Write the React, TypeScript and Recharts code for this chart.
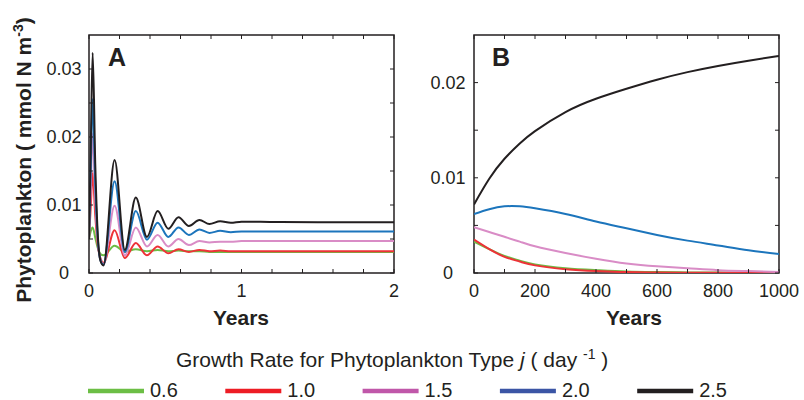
import { LineChart, Line, XAxis, YAxis, ReferenceArea } from "recharts";

// Panel A: first two years (time in years)
const yearsA = [
  0, 0.012, 0.024, 0.041, 0.056, 0.075, 0.095, 0.168, 0.235, 0.307, 0.38,
  0.45, 0.52, 0.587, 0.655, 0.724, 0.79, 0.86, 0.93, 1.0, 1.2, 1.5, 2.0,
];
const greenA = [
  0.005, 0.0062, 0.0067, 0.0052, 0.0038, 0.0028, 0.0026, 0.004, 0.0031,
  0.0035, 0.0032, 0.0034, 0.0032, 0.0033, 0.0032, 0.0032, 0.0031, 0.0031,
  0.0031, 0.0031, 0.0031, 0.0031, 0.0031,
];
const redA = [
  0.005, 0.01, 0.0147, 0.0085, 0.0043, 0.0022, 0.0015, 0.0063, 0.0022,
  0.0044, 0.0026, 0.0039, 0.0029, 0.0035, 0.0031, 0.0034, 0.0032, 0.0033,
  0.0032, 0.0032, 0.0032, 0.0032, 0.0032,
];
const pinkA = [
  0.005, 0.013, 0.0205, 0.0108, 0.0049, 0.002, 0.0013, 0.0099, 0.0026,
  0.0067, 0.0039, 0.0056, 0.0039, 0.005, 0.0041, 0.0047, 0.0045, 0.0046,
  0.0046, 0.0047, 0.0047, 0.0047, 0.0047,
];
const blueA = [
  0.005, 0.016, 0.0256, 0.013, 0.0056, 0.0019, 0.0012, 0.0135, 0.0031,
  0.0091, 0.0049, 0.0074, 0.0053, 0.0067, 0.0056, 0.0064, 0.0059, 0.0062,
  0.006, 0.0061, 0.0061, 0.0061, 0.0061,
];
const blackA = [
  0.005, 0.019, 0.0324, 0.016, 0.0063, 0.0018, 0.0011, 0.0166, 0.0034,
  0.0111, 0.0053, 0.0091, 0.0065, 0.0082, 0.0069, 0.0078, 0.0072, 0.0076,
  0.0074, 0.00755, 0.0075, 0.00745, 0.00745,
];

// Panel B: long run (time in years)
const yearsB = [0, 50, 100, 150, 200, 300, 400, 500, 600, 700, 800, 900, 1000];
const greenB = [
  0.0033, 0.0025, 0.0018, 0.0013, 0.0009, 0.0005, 0.0003, 0.00016, 0.0001,
  0.00006, 0.00004, 0.00002, 0.00001,
];
const redB = [
  0.0035, 0.0025, 0.0017, 0.0012, 0.0008, 0.0004, 0.0002, 0.0001, 0.00005,
  0.00003, 0.00002, 0.00001, 0,
];
const pinkB = [
  0.0048, 0.0043, 0.0038, 0.0033, 0.0028, 0.0021, 0.0015, 0.001, 0.0007,
  0.0005, 0.0003, 0.0002, 0.0001,
];
const blueB = [
  0.0062, 0.0067, 0.0070, 0.0070, 0.0068, 0.0062, 0.0054, 0.0047, 0.004,
  0.0034, 0.0029, 0.0024, 0.002,
];
const blackB = [
  0.0072, 0.0099, 0.012, 0.0136, 0.0149, 0.0169, 0.0183, 0.01935, 0.0203,
  0.0211, 0.02175, 0.0223, 0.0228,
];

const xTicksA = [0, 0.2, 0.4, 0.6, 0.8, 1, 1.2, 1.4, 1.6, 1.8, 2];
const xLabelsA = [0, 1, 2];
const yTicksA = [0, 0.005, 0.01, 0.015, 0.02, 0.025, 0.03];
const yLabelsA = [0, 0.01, 0.02, 0.03];

const xTicksB = [0, 100, 200, 300, 400, 500, 600, 700, 800, 900, 1000];
const xLabelsB = [0, 200, 400, 600, 800, 1000];
const yTicksB = [0, 0.005, 0.01, 0.015, 0.02];
const yLabelsB = [0, 0.01, 0.02];

const rates = ["0.6", "1.0", "1.5", "2.0", "2.5"];
const lineColors = ["#6cbe45", "#ed3237", "#d98cc6", "#1c75bc", "#231f20"];
const legendColors = ["#6cbe45", "#ed1c24", "#c057a9", "#3b55a5", "#231f20"];

const INK = "#231f20";
const FONT = "'Liberation Sans', Arial, Helvetica, sans-serif";
const PLOT_W = 305;
const PLOT_H = 238;

const dataA = yearsA.map((t, i) => ({
  t,
  g: greenA[i],
  r: redA[i],
  p: pinkA[i],
  b: blueA[i],
  k: blackA[i],
}));
const dataB = yearsB.map((t, i) => ({
  t,
  g: greenB[i],
  r: redB[i],
  p: pinkB[i],
  b: blueB[i],
  k: blackB[i],
}));

const fmtY = (v: number) => (v === 0 ? "0" : v.toFixed(2));

function makeXTick(labels: number[]) {
  return (props: any) => {
    const { x, y, payload } = props;
    const v = payload.value;
    return (
      <g>
        <line x1={x} x2={x} y1={y} y2={y - 4} stroke={INK} strokeWidth={1} />
        <line x1={x} x2={x} y1={y - PLOT_H} y2={y - PLOT_H + 4} stroke={INK} strokeWidth={1} />
        {labels.includes(v) && (
          <text x={x} y={y + 24} textAnchor="middle" fontSize={18} fill={INK} fontFamily={FONT}>
            {String(v)}
          </text>
        )}
      </g>
    );
  };
}

function makeYTick(labels: number[], offset: number) {
  return (props: any) => {
    const { x, y, payload } = props;
    const v = payload.value;
    return (
      <g>
        <line x1={x} x2={x + 4} y1={y} y2={y} stroke={INK} strokeWidth={1} />
        <line x1={x + PLOT_W} x2={x + PLOT_W - 4} y1={y} y2={y} stroke={INK} strokeWidth={1} />
        {labels.includes(v) && (
          <text x={x - offset} y={y + 6} textAnchor="middle" fontSize={18} fill={INK} fontFamily={FONT}>
            {fmtY(v)}
          </text>
        )}
      </g>
    );
  };
}

const keys = ["g", "r", "p", "b", "k"];

function Series(curve: "monotone" | "natural") {
  return keys.map((k, i) => (
    <Line
      key={k}
      type={curve}
      dataKey={k}
      stroke={lineColors[i]}
      strokeWidth={2}
      dot={false}
      isAnimationActive={false}
    />
  ));
}

export default function App() {
  return (
    <div
      style={{
        position: "absolute",
        left: 0,
        top: 0,
        width: 804,
        height: 400,
        background: "#fff",
        fontFamily: FONT,
      }}
    >
      <div style={{ position: "absolute", left: 0, top: 0 }}>
        <LineChart width={420} height={340} data={dataA} margin={{ top: 35, right: 26, bottom: 0, left: 0 }}>
          <ReferenceArea x1={0} x2={2} y1={0} y2={0.035} fill="none" stroke={INK} strokeWidth={1.5} />
          <XAxis
            dataKey="t"
            type="number"
            domain={[0, 2]}
            ticks={xTicksA}
            interval={0}
            height={67}
            tickSize={0}
            tickMargin={0}
            axisLine={false}
            tickLine={false}
            tick={makeXTick(xLabelsA)}
            allowDataOverflow
          />
          <YAxis
            type="number"
            domain={[0, 0.035]}
            ticks={yTicksA}
            interval={0}
            width={89}
            tickSize={0}
            tickMargin={0}
            axisLine={false}
            tickLine={false}
            tick={makeYTick(yLabelsA, 25)}
            allowDataOverflow
          />
          {Series("monotone")}
        </LineChart>
      </div>
      <div style={{ position: "absolute", left: 420, top: 0 }}>
        <LineChart width={384} height={340} data={dataB} margin={{ top: 35, right: 25, bottom: 0, left: 0 }}>
          <ReferenceArea x1={0} x2={1000} y1={0} y2={0.025} fill="none" stroke={INK} strokeWidth={1.5} />
          <XAxis
            dataKey="t"
            type="number"
            domain={[0, 1000]}
            ticks={xTicksB}
            interval={0}
            height={67}
            tickSize={0}
            tickMargin={0}
            axisLine={false}
            tickLine={false}
            tick={makeXTick(xLabelsB)}
            allowDataOverflow
          />
          <YAxis
            type="number"
            domain={[0, 0.025]}
            ticks={yTicksB}
            interval={0}
            width={54}
            tickSize={0}
            tickMargin={0}
            axisLine={false}
            tickLine={false}
            tick={makeYTick(yLabelsB, 26)}
            allowDataOverflow
          />
          {Series("natural")}
        </LineChart>
      </div>
      <svg
        width={804}
        height={400}
        style={{ position: "absolute", left: 0, top: 0, pointerEvents: "none" }}
        fontFamily={FONT}
      >
        <text
          transform="translate(31,160) rotate(-90)"
          textAnchor="middle"
          fontSize={21}
          fontWeight="bold"
          fill={INK}
        >
          Phytoplankton ( mmol N m
          <tspan fontSize={14} dy={-8}>-3</tspan>
          <tspan dy={8}>)</tspan>
        </text>
        <text x={108} y={66} fontSize={25} fontWeight="bold" fill={INK}>A</text>
        <text x={492} y={66} fontSize={25} fontWeight="bold" fill={INK}>B</text>
        <text x={241} y={325} textAnchor="middle" fontSize={21} fontWeight="bold" fill={INK}>Years</text>
        <text x={634} y={325} textAnchor="middle" fontSize={21} fontWeight="bold" fill={INK}>Years</text>
        <text x={176} y={367} fontSize={21} fill={INK}>
          {"Growth Rate for Phytoplankton Type "}
          <tspan fontStyle="italic">j</tspan>
          {" ( day "}
          <tspan fontSize={14} dy={-8}>-1</tspan>
          <tspan dy={8}>{" )"}</tspan>
        </text>
        {rates.map((r, i) => {
          const x0 = 88 + i * 137.3;
          return (
            <g key={r}>
              <line x1={x0} x2={x0 + 56} y1={391} y2={391} stroke={legendColors[i]} strokeWidth={4.5} />
              <text x={x0 + 62} y={397} fontSize={20} fill={INK}>{r}</text>
            </g>
          );
        })}
      </svg>
    </div>
  );
}
